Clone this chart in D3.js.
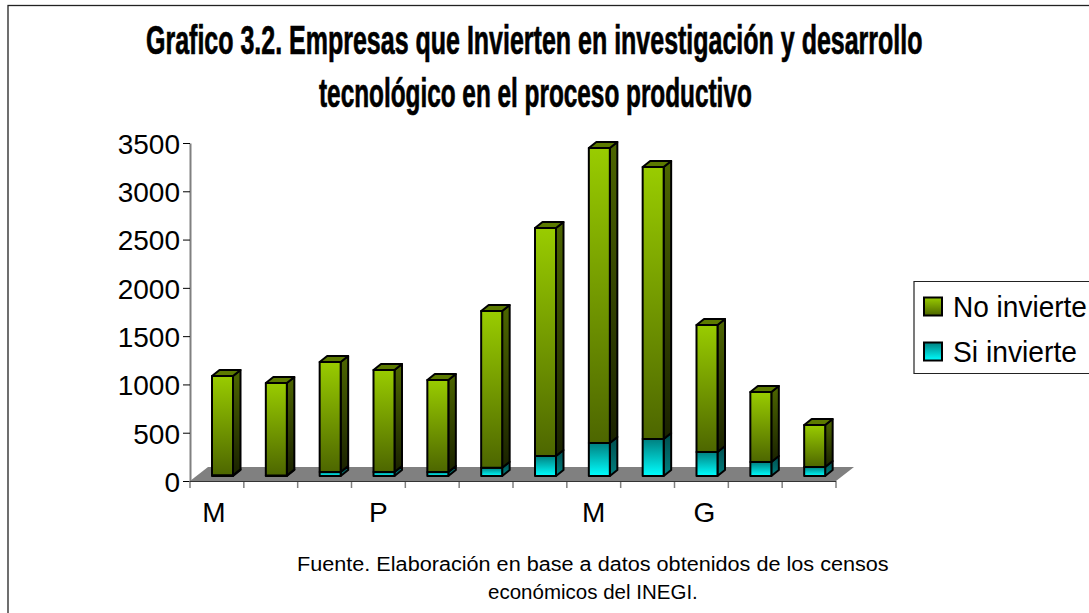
<!DOCTYPE html>
<html><head><meta charset="utf-8">
<script src="https://cdn.jsdelivr.net/npm/d3@7"></script>
<style>html,body{margin:0;padding:0;background:#fff;overflow:hidden}svg{display:block}text{font-family:"Liberation Sans",Arial,sans-serif;fill:#000}</style>
</head><body><svg id="c" width="1089" height="613"></svg>
<script>
const categories=["M","","","P","","","","M","","G","",""];
const siInvierte=[8,6,42,42,42,85,207,342,383,249,145,93];
const noInvierte=[1028,957,1138,1056,952,1623,2361,3055,2817,1315,725,435];
const yTicks=[0,500,1000,1500,2000,2500,3000,3500];
const titleLines=["Grafico 3.2. Empresas que Invierten en investigación y desarrollo","tecnológico en el proceso productivo"];
const footLines=["Fuente. Elaboración en base a datos obtenidos de los censos","económicos del INEGI."];
const legendItems=["No invierte","Si invierte"];

const svg=d3.select("#c");
const defs=svg.append("defs");
function grad(id,a,b){const g=defs.append("linearGradient").attr("id",id).attr("x1",0).attr("y1",0).attr("x2",0).attr("y2",1);
 g.append("stop").attr("offset",0).attr("stop-color",a);g.append("stop").attr("offset",1).attr("stop-color",b);}
grad("gF","#99cc00","#4d6600");grad("gS","#4d6600","#1a2200");
grad("cF","#008080","#00ffff");grad("cS","#004d4d","#008080");

// text fitted to a target width by horizontal scaling
function fitText(str,px,py,w,size,weight){
 const t=svg.append("text").attr("font-size",size).attr("font-weight",weight||"normal").text(str);
 const k=w/t.node().getComputedTextLength();
 t.attr("transform",`translate(${px},${py}) scale(${k},1)`);
 return t;
}

// frame
svg.append("rect").attr("x",8).attr("y",5.5).attr("width",1200).attr("height",700).attr("fill","#fff").attr("stroke","#222").attr("stroke-width",1.3);

// title
const tl=[[146,777,54],[319,433,107]];
titleLines.forEach((t,i)=>fitText(t,tl[i][0],tl[i][2],tl[i][1],41,"bold").attr("stroke","#000").attr("stroke-width",0.7));

const plotLeft=190,plotRight=836,plotBottom=481,plotTop=143;
const x=d3.scaleBand().domain(d3.range(categories.length)).range([plotLeft,plotRight]);
const y=d3.scaleLinear().domain([0,3500]).range([plotBottom,plotTop]);
const depthX=18,depthY=14;

// floor
svg.append("path").attr("d",d3.line()([[plotLeft,plotBottom],[plotLeft+depthX,plotBottom-depthY],[plotRight+depthX,plotBottom-depthY],[plotRight,plotBottom]])+"Z").attr("fill","#808080");

// axes
const ay=d3.axisLeft(y).tickValues(yTicks).tickSize(7).tickSizeOuter(0).tickPadding(3).tickFormat(d3.format("d"));
const gy=svg.append("g").attr("transform",`translate(${plotLeft},0)`).call(ay);
gy.select(".domain").attr("stroke","#808080").attr("stroke-width",2);
gy.selectAll("line").attr("stroke","#000");
gy.selectAll("text").attr("font-size",28).attr("dy","0.37em");

const xTickPos=d3.range(categories.length+1).map(i=>plotLeft+i*x.step());
svg.selectAll(".xt").data(xTickPos).join("line").attr("class","xt").attr("x1",d=>d).attr("x2",d=>d).attr("y1",plotBottom).attr("y2",plotBottom+7).attr("stroke","#808080").attr("stroke-width",1.5);
svg.append("line").attr("x1",plotLeft).attr("x2",plotRight).attr("y1",plotBottom+.5).attr("y2",plotBottom+.5).attr("stroke","#333").attr("stroke-width",1);
svg.selectAll(".xl").data(categories).join("text").attr("class","xl").attr("text-anchor","middle").attr("font-size",28)
 .attr("x",(d,i)=>x(i)+x.step()/2+(i==0?-3:i==9?3:0)).attr("y",plotBottom+41).text(d=>d);

// bars
const bw=21,bx=22,bd=5,dx=7.5,dy=6;
function seg(i,lo,hi,f,s,topFill){
 const x0=x(i)+bx,x1=x0+bw,yb=y(lo)-bd,yt=y(hi)-bd;
 const b=svg.append("g").attr("stroke","#000").attr("stroke-width",2).attr("stroke-linejoin","round");
 b.append("path").attr("d",d3.line()([[x1,yt],[x1+dx,yt-dy],[x1+dx,yb-dy],[x1,yb]])+"Z").attr("fill",`url(#${s})`);
 if(topFill)b.append("path").attr("d",d3.line()([[x0,yt],[x0+dx,yt-dy],[x1+dx,yt-dy],[x1,yt]])+"Z").attr("fill",topFill);
 b.append("rect").attr("x",x0).attr("y",yt).attr("width",bw).attr("height",yb-yt).attr("fill",`url(#${f})`);
}
categories.forEach((c,i)=>{
 seg(i,0,siInvierte[i],"cF","cS",null);
 seg(i,siInvierte[i],siInvierte[i]+noInvierte[i],"gF","gS","#5c7a00");
});

// legend
svg.append("path").attr("d","M1200,281.5H914V373.5H1200").attr("fill","#fff").attr("stroke","#222").attr("stroke-width",1.2);
const ly=[316.5,361.5],lw=[134,124];
legendItems.forEach((t,i)=>{
 svg.append("rect").attr("x",924).attr("y",ly[i]-19).attr("width",18).attr("height",18).attr("fill",`url(#${i?"cF":"gF"})`).attr("stroke","#000").attr("stroke-width",2);
 fitText(t,953,ly[i],lw[i],30);
});

// footer
const fy=[571,599],fw=[592,210];
footLines.forEach((t,i)=>fitText(t,593-fw[i]/2,fy[i],fw[i],21));
</script></body></html>
